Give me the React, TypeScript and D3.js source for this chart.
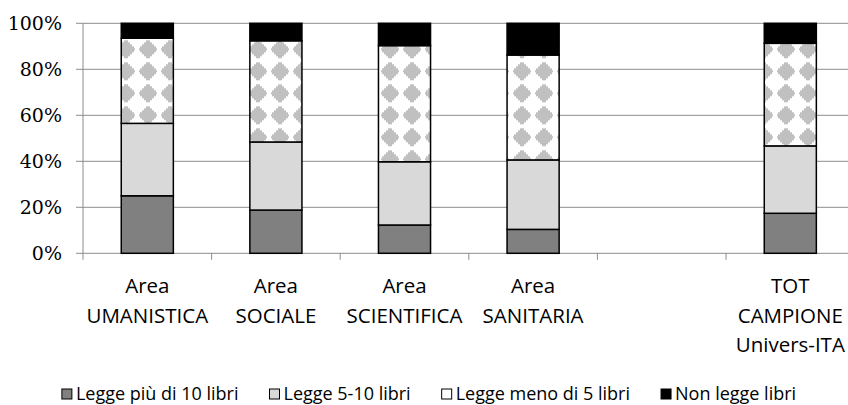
import React, { useLayoutEffect, useRef, useState } from "react";
import * as d3 from "d3";

const categories: string[][] = [
  ["Area", "UMANISTICA"],
  ["Area", "SOCIALE"],
  ["Area", "SCIENTIFICA"],
  ["Area", "SANITARIA"],
  [""],
  ["TOT", "CAMPIONE", "Univers-ITA"],
];
const categoryKeys = ["UMA", "SOC", "SCI", "SAN", "EMPTY", "TOT"];

const seriesNames = [
  "Legge più di 10 libri",
  "Legge 5-10 libri",
  "Legge meno di 5 libri",
  "Non legge libri",
];
const piuDi10: (number | null)[] = [25, 18.8, 12.3, 10.4, null, 17.4];
const da5a10: (number | null)[] = [31.5, 29.6, 27.5, 30.2, null, 29.3];
const menoDi5: (number | null)[] = [37, 44, 50.5, 45.6, null, 44.6];
const nonLegge: (number | null)[] = [6.5, 7.6, 9.7, 13.8, null, 8.7];

const yTicks = [0, 20, 40, 60, 80, 100];

const W = 848;
const H = 405;
const left = 83;
const bandW = 128.6;
const yTop = 23.3;
const yBottom = 253.3;

const fills = ["#808080", "#d9d9d9", "url(#diamonds)", "#000000"];
const legendFills = ["#808080", "#d9d9d9", "#ffffff", "#000000"];

const serif = "DejaVu Serif";
const sans = "Open Sans";

export default function App() {
  const x = d3
    .scaleBand<string>()
    .domain(categoryKeys)
    .range([left, left + bandW * categoryKeys.length])
    .paddingInner(0)
    .paddingOuter(0);
  const y = d3.scaleLinear().domain([0, 100]).range([yBottom, yTop]);
  const barW = x.bandwidth() * 0.405;

  const seriesData = [piuDi10, da5a10, menoDi5, nonLegge];
  const rows = categoryKeys.map((k, i) => {
    const r: any = { key: k };
    seriesNames.forEach((s, j) => (r[s] = seriesData[j][i] ?? 0));
    return r;
  });
  const stacked = d3.stack<any>().keys(seriesNames)(rows);

  const legendRef = useRef<SVGGElement>(null);
  const [widths, setWidths] = useState<number[]>([150, 125, 160, 115]);
  useLayoutEffect(() => {
    if (!legendRef.current) return;
    const texts = legendRef.current.querySelectorAll("text");
    const w = Array.from(texts).map((t) => (t as SVGTextElement).getComputedTextLength());
    if (w.some((v, i) => Math.abs(v - widths[i]) > 0.5)) setWidths(w);
  }, []);

  const sq = 11;
  const sqGap = 3;
  const itemGap = 31;
  const total =
    widths.reduce((a, b) => a + b, 0) + seriesNames.length * (sq + sqGap) + itemGap * (seriesNames.length - 1);
  const legendCenter = 429;
  let cursor = legendCenter - total / 2;
  const legendX = widths.map((w) => {
    const s = cursor;
    cursor += sq + sqGap + w + itemGap;
    return s;
  });
  const legendBaseline = 400;

  const grid = "#8c8c8c";
  const boundaries = d3.range(categoryKeys.length + 1).map((i) => left + i * x.step());

  return (
    <svg
      width={W}
      height={H}
      style={{ position: "absolute", left: 0, top: 0, background: "#fff" }}
    >
      <defs>
        <pattern id="diamonds" patternUnits="userSpaceOnUse" width={22} height={22} x={115} y={16.3}>
          <rect width={22} height={22} fill="#ffffff" />
          <path
            d="M11,2 L13,2 L13,4 L15,4 L15,6 L17,6 L17,8 L19,8 L19,10 L20,10 L20,12 L19,12 L19,14 L17,14 L17,16 L15,16 L15,18 L13,18 L13,20 L11,20 L9,20 L9,18 L7,18 L7,16 L5,16 L5,14 L3,14 L3,12 L2,12 L2,10 L3,10 L3,8 L5,8 L5,6 L7,6 L7,4 L9,4 L9,2 Z"
            fill="#c0c0c0"
          />
        </pattern>
      </defs>
      <rect width={W} height={H} fill="#fff" />

      {/* gridlines */}
      {yTicks.map((t) => (
        <g key={t}>
          <line x1={left} x2={W} y1={y(t)} y2={y(t)} stroke={grid} strokeWidth={1} />
          <line x1={left - 7} x2={left} y1={y(t)} y2={y(t)} stroke={grid} strokeWidth={1} />
          <text
            x={62}
            y={y(t)}
            dy="0.36em"
            textAnchor="end"
            style={{ fontFamily: serif }}
            fontSize={19}
            fill="#000"
          >
            {`${t}%`}
          </text>
        </g>
      ))}
      {/* y axis line */}
      <line x1={left} x2={left} y1={yTop} y2={yBottom} stroke={grid} strokeWidth={1} />
      {/* x ticks */}
      {boundaries.map((b, i) => (
        <line key={i} x1={b} x2={b} y1={yBottom} y2={yBottom + 6.5} stroke={grid} strokeWidth={1} />
      ))}

      {/* bars */}
      {stacked.map((layer, j) => (
        <g key={layer.key}>
          {layer.map((d, i) =>
            d[1] - d[0] > 0 ? (
              <rect
                key={i}
                x={(x(categoryKeys[i]) as number) + (x.bandwidth() - barW) / 2}
                y={y(d[1])}
                width={barW}
                height={y(d[0]) - y(d[1])}
                fill={fills[j]}
                stroke="#000"
                strokeWidth={1.5}
              />
            ) : null
          )}
        </g>
      ))}

      {/* category labels */}
      {categories.map((lines, i) => (
        <text
          key={i}
          textAnchor="middle"
          style={{ fontFamily: sans }}
          fontSize={20.5}
          fill="#000"
        >
          {lines.map((l, k) => (
            <tspan key={k} x={(x(categoryKeys[i]) as number) + x.bandwidth() / 2} y={293 + k * 29.5}>
              {l}
            </tspan>
          ))}
        </text>
      ))}

      {/* legend */}
      <g ref={legendRef}>
        {seriesNames.map((s, j) => (
          <g key={s}>
            <rect
              x={legendX[j]}
              y={legendBaseline - 11}
              width={sq - 1}
              height={sq - 1}
              fill={legendFills[j]}
              stroke="#000"
              strokeWidth={1}
            />
            <text
              x={legendX[j] + sq + sqGap}
              y={legendBaseline}
              style={{ fontFamily: sans }}
              fontSize={18}
              fill="#000"
            >
              {s}
            </text>
          </g>
        ))}
      </g>
    </svg>
  );
}
